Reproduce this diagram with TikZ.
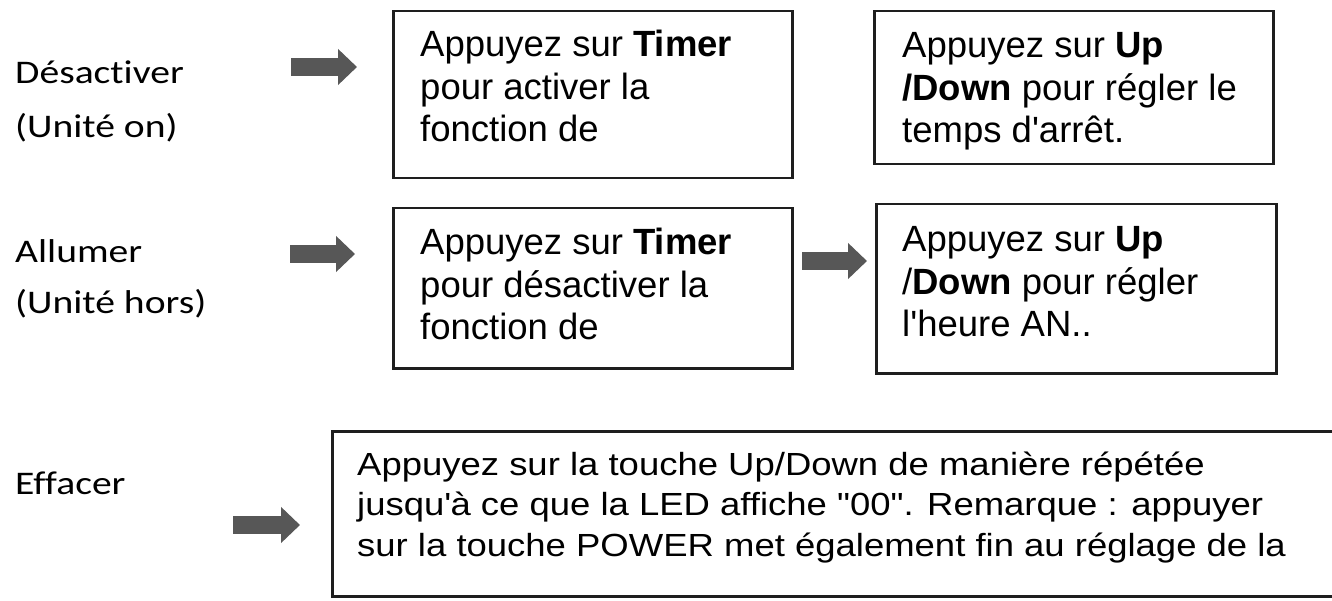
\documentclass[tikz,border=0pt]{standalone}
\usepackage{fontspec}
\setmainfont{Liberation Sans}[Ligatures={TeX,NoCommon}]
\newfontfamily\labfont[FakeStretch=1.2,Ligatures=NoCommon]{Carlito}
\newfontfamily\widefont[FakeStretch=1.14,Ligatures=NoCommon]{Liberation Sans}
\usetikzlibrary{arrows.meta}
\definecolor{arrowgray}{HTML}{575757}
\definecolor{boxline}{HTML}{1E1E1E}
\tikzset{
  box/.style={draw=boxline, line width=2.5pt, inner sep=0pt, anchor=north west, rectangle},
  boxtext/.style={anchor=base west, inner sep=0pt, font=\fontsize{36.5}{42.5}\selectfont},
  widetext/.style={anchor=base west, inner sep=0pt, font=\widefont\fontsize{32}{40.5}\selectfont},
  sidelabel/.style={anchor=base west, inner sep=0pt, font=\labfont\fontsize{33}{40}\selectfont},
  blockarrow/.style={draw=arrowgray, line width=18pt, -{Triangle[length=19pt,width=35pt]}}
}
\begin{document}
\begin{tikzpicture}[x=1pt,y=-1pt]
\fill[white] (0,0) rectangle (1332,601);
\useasboundingbox (0,0) rectangle (1332,601);

% left labels
\node[sidelabel] (l1) at (15,84) {Désactiver};
\node[sidelabel] (l2) at (15,138) {(Unité on)};
\node[sidelabel] (l3) at (15,263) {Allumer};
\node[sidelabel] (l4) at (15,313) {(Unité hors)};
\node[sidelabel] (l5) at (15,494) {Effacer};

% boxes
\node[box, minimum width=399pt, minimum height=167pt] (b1) at (392,10) {};
\node[box, minimum width=399pt, minimum height=153pt] (b2) at (873,10) {};
\node[box, minimum width=399pt, minimum height=160pt] (b3) at (392,207) {};
\node[box, minimum width=400pt, minimum height=169pt] (b4) at (875,203) {};
\node[box, minimum width=1100pt, minimum height=165pt] (b5) at (331,430) {};

% box texts
\node[boxtext] (t1) at (420,57) {\parbox[t]{360pt}{Appuyez sur \textbf{Timer}\\pour activer la\\fonction de}};
\node[boxtext] (t2) at (902,58) {\parbox[t]{360pt}{Appuyez sur \textbf{Up}\\\textbf{/Down} pour régler le\\temps d\textquotesingle arrêt.}};
\node[boxtext] (t3) at (420,255) {\parbox[t]{360pt}{Appuyez sur \textbf{Timer}\\pour désactiver la\\fonction de}};
\node[boxtext] (t4) at (902,252) {\parbox[t]{360pt}{Appuyez sur \textbf{Up}\\/\textbf{Down} pour régler\\l\textquotesingle heure AN..}};
\node[widetext] (t5) at (357,475) {\parbox[t]{960pt}{Appuyez sur la touche Up/Down de manière répétée\\jusqu\textquotesingle à ce que la LED affiche "00". Remarque : appuyer\\sur la touche POWER met également fin au réglage de la}};

% arrows
\coordinate (a1s) at (291,67);
\coordinate (a1e) at (357,67);
\coordinate (a2s) at (290,254);
\coordinate (a2e) at (355,254);
\coordinate (a3s) at (233,525);
\coordinate (a3e) at (300,525);
\coordinate (a4s) at (802,261);
\coordinate (a4e) at (867,261);
\draw[blockarrow] (a1s) -- (a1e);
\draw[blockarrow] (a2s) -- (a2e);
\draw[blockarrow] (a3s) -- (a3e);
\draw[blockarrow] (a4s) -- (a4e);
\end{tikzpicture}
\end{document}
